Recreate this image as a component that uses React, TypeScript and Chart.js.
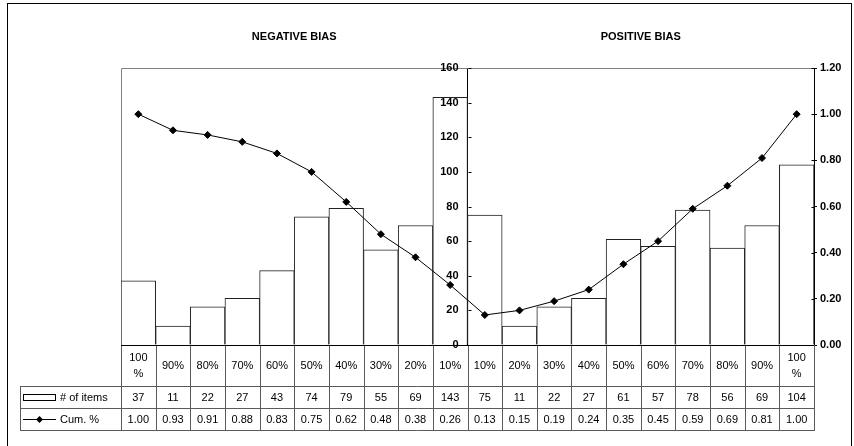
import { useEffect, useRef } from "react";
import { Chart, registerables } from "chart.js";

Chart.register(...registerables);

// Decile bins, negative side then positive side
const categories = [
  "100%", "90%", "80%", "70%", "60%", "50%", "40%", "30%", "20%", "10%",
  "10%", "20%", "30%", "40%", "50%", "60%", "70%", "80%", "90%", "100%",
];
const itemCounts = [37, 11, 22, 27, 43, 74, 79, 55, 69, 143, 75, 11, 22, 27, 61, 57, 78, 56, 69, 104];
const cumShare = [1.0, 0.93, 0.91, 0.88, 0.83, 0.75, 0.62, 0.48, 0.38, 0.26, 0.13, 0.15, 0.19, 0.24, 0.35, 0.45, 0.59, 0.69, 0.81, 1.0];
const seriesNames = ["# of items", "Cum. %"];
const sideTitles = ["NEGATIVE BIAS", "POSITIVE BIAS"];
const countAxis = { min: 0, max: 160, step: 20 };
const shareAxis = { min: 0, max: 1.2, step: 0.2 };

const FONT = "'Liberation Sans', Arial, sans-serif";

// Plot frame, centre-axis labels, crossing tick halves, side titles and the data table
const tablePlugin = {
  id: "dataTable",
  beforeDatasetsDraw(chart: any) {
    const { ctx, chartArea: a } = chart;
    ctx.save();
    ctx.strokeStyle = "#808080";
    ctx.lineWidth = 1;
    ctx.beginPath();
    ctx.moveTo(Math.round(a.left) + 0.5, a.bottom);
    ctx.lineTo(Math.round(a.left) + 0.5, Math.round(a.top) + 0.5);
    ctx.lineTo(a.right, Math.round(a.top) + 0.5);
    ctx.stroke();
    ctx.restore();
  },
  afterDatasetsDraw(chart: any) {
    const { ctx, scales } = chart;
    const xs = scales.x;
    const yL = scales.y;
    const midX = xs.getPixelForValue(categories.length / 2 - 0.5);
    ctx.save();
    ctx.fillStyle = "#000";
    ctx.font = `bold 11px ${FONT}`;
    ctx.textAlign = "right";
    ctx.textBaseline = "middle";
    yL.ticks.forEach((t: any) => {
      ctx.fillText(String(t.value), midX - 9, yL.getPixelForValue(t.value));
    });
    ctx.restore();
  },
  afterDraw(chart: any) {
    const { ctx, chartArea: a, scales } = chart;
    const xs = scales.x;
    const n = categories.length;
    const colW = xs.getPixelForValue(1) - xs.getPixelForValue(0);
    const edge = (i: number) => xs.getPixelForValue(i) - colW / 2;
    const rowTop = a.bottom;
    const row1 = rowTop + 41;
    const row2 = row1 + 22;
    const row3 = row2 + 22;
    const legendLeft = 20;

    ctx.save();

    // outer chart frame
    ctx.strokeStyle = "#000";
    ctx.lineWidth = 1;
    ctx.strokeRect(7.5, 3.5, 844, 480);

    // inward halves of the crossing tick marks
    const yL = scales.y;
    const yR = scales.y1;
    const midX = Math.round(xs.getPixelForValue(n / 2 - 0.5)) + 0.5;
    ctx.beginPath();
    yL.ticks.forEach((t: any) => {
      const y = Math.round(yL.getPixelForValue(t.value)) + 0.5;
      ctx.moveTo(midX, y);
      ctx.lineTo(midX + 3, y);
    });
    const rx = Math.round(a.right) + 0.5;
    yR.ticks.forEach((t: any) => {
      const y = Math.round(yR.getPixelForValue(t.value)) + 0.5;
      ctx.moveTo(rx, y);
      ctx.lineTo(rx - 3, y);
    });
    ctx.stroke();

    // side titles centred over each half
    ctx.fillStyle = "#000";
    ctx.font = `bold 11px ${FONT}`;
    ctx.textAlign = "center";
    ctx.textBaseline = "middle";
    const half = n / 2;
    sideTitles.forEach((t, k) => {
      const cx = (edge(k * half) + edge((k + 1) * half)) / 2;
      ctx.fillText(t, cx, 37);
    });

    // table grid
    ctx.strokeStyle = "#5a5a5a";
    ctx.beginPath();
    for (let i = 0; i <= n; i++) {
      const x = Math.round(edge(i)) + 0.5;
      ctx.moveTo(x, rowTop);
      ctx.lineTo(x, row3 + 0.5);
    }
    ctx.moveTo(legendLeft + 0.5, row1);
    ctx.lineTo(legendLeft + 0.5, row3 + 0.5);
    [row1, row2, row3].forEach((y) => {
      ctx.moveTo(legendLeft, y + 0.5);
      ctx.lineTo(Math.round(a.right) + 1, y + 0.5);
    });
    ctx.stroke();

    // category axis line
    ctx.strokeStyle = "#000";
    ctx.beginPath();
    ctx.moveTo(a.left, Math.round(rowTop) + 0.5);
    ctx.lineTo(a.right, Math.round(rowTop) + 0.5);
    ctx.stroke();

    // table text
    ctx.font = `11px ${FONT}`;
    ctx.fillStyle = "#000";
    ctx.textAlign = "center";
    const catMid = (rowTop + row1) / 2;
    categories.forEach((label, i) => {
      const cx = xs.getPixelForValue(i);
      if (ctx.measureText(label).width > colW - 8) {
        const cut = label.indexOf("%");
        ctx.fillText(label.slice(0, cut), cx, catMid - 8);
        ctx.fillText(label.slice(cut), cx, catMid + 8);
      } else {
        ctx.fillText(label, cx, catMid);
      }
      ctx.fillText(String(itemCounts[i]), cx, (row1 + row2) / 2 + 1);
      ctx.fillText(cumShare[i].toFixed(2), cx, (row2 + row3) / 2 + 1);
    });

    // legend keys
    const r2 = (row1 + row2) / 2;
    const r3 = (row2 + row3) / 2;
    ctx.fillStyle = "#fff";
    ctx.strokeStyle = "#000";
    ctx.fillRect(23, Math.round(r2) - 3, 32, 6);
    ctx.strokeRect(23.5, Math.round(r2) - 2.5, 32, 6);
    ctx.beginPath();
    ctx.moveTo(23, Math.round(r3) + 0.5);
    ctx.lineTo(56, Math.round(r3) + 0.5);
    ctx.stroke();
    ctx.fillStyle = "#000";
    ctx.beginPath();
    const dx = 39.5;
    const dy = Math.round(r3) + 0.5;
    ctx.moveTo(dx, dy - 3.5);
    ctx.lineTo(dx + 3.5, dy);
    ctx.lineTo(dx, dy + 3.5);
    ctx.lineTo(dx - 3.5, dy);
    ctx.closePath();
    ctx.fill();
    ctx.textAlign = "left";
    ctx.fillText(seriesNames[0], 60, r2 + 1);
    ctx.fillText(seriesNames[1], 60, r3 + 1);

    ctx.restore();
  },
};

export default function App() {
  const canvasRef = useRef<HTMLCanvasElement | null>(null);

  useEffect(() => {
    const canvas = canvasRef.current;
    if (!canvas) return;
    const chart = new Chart(canvas, {
      type: "bar",
      data: {
        labels: categories,
        datasets: [
          {
            type: "line",
            label: seriesNames[1],
            data: cumShare,
            yAxisID: "y1",
            borderColor: "#000",
            borderWidth: 1,
            pointStyle: "rectRot",
            pointRadius: 3.5,
            pointBackgroundColor: "#000",
            pointBorderColor: "#000",
            tension: 0,
            order: 0,
          } as any,
          {
            type: "bar",
            label: seriesNames[0],
            data: itemCounts,
            yAxisID: "y",
            backgroundColor: "#fff",
            borderColor: "#222",
            borderWidth: 1,
            categoryPercentage: 1,
            barPercentage: 1,
            order: 1,
          },
        ],
      },
      options: {
        responsive: false,
        animation: false,
        devicePixelRatio: 1,
        layout: { padding: { left: 121, right: 0, top: 68, bottom: 101 } },
        plugins: {
          legend: { display: false },
          tooltip: { enabled: false },
          title: { display: false },
        },
        scales: {
          x: { type: "category", display: false, offset: true },
          y: {
            type: "linear",
            position: { x: categories.length / 2 - 0.5 } as any,
            z: 1,
            min: countAxis.min,
            max: countAxis.max,
            grid: { drawOnChartArea: false, tickLength: 3, color: "#000" },
            border: { color: "#000", width: 1 },
            ticks: { stepSize: countAxis.step, display: false },
          },
          y1: {
            type: "linear",
            position: "right",
            min: shareAxis.min,
            max: shareAxis.max,
            afterFit: (s: any) => {
              s.width = 40;
            },
            grid: { drawOnChartArea: false, tickLength: 3, color: "#000" },
            border: { color: "#000", width: 1 },
            ticks: {
              stepSize: shareAxis.step,
              padding: 3,
              color: "#000",
              font: { family: FONT, size: 11, weight: "bold" },
              callback: (v: any) => Number(v).toFixed(2),
            },
          },
        },
      },
      plugins: [tablePlugin],
    });
    return () => chart.destroy();
  }, []);

  return (
    <div style={{ position: "absolute", left: 0, top: 0, width: 854, height: 446, background: "#fff" }}>
      <canvas ref={canvasRef} width={854} height={446} style={{ display: "block" }} />
    </div>
  );
}
